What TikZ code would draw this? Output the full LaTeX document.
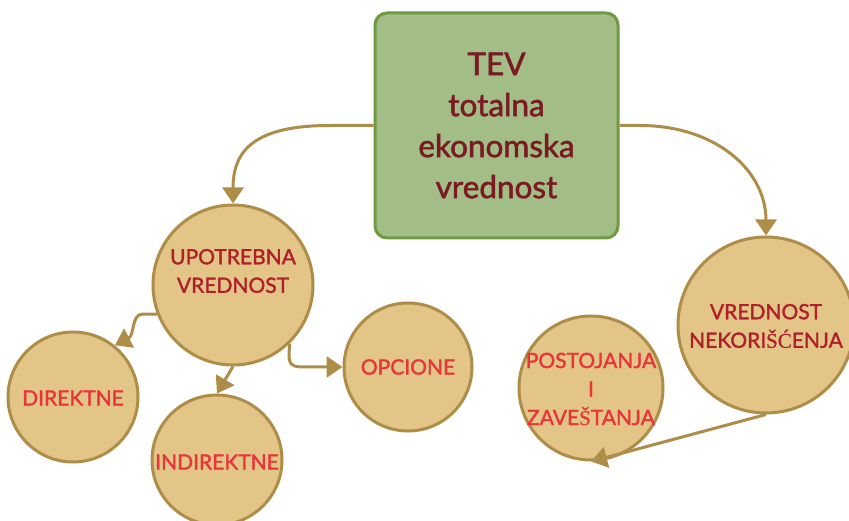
\documentclass[tikz,border=0pt]{standalone}
\usepackage{fontspec}
\setmainfont[FakeBold=1.6]{Lato}
\newfontfamily\serifch[FakeBold=0.8]{Liberation Serif}
\usetikzlibrary{arrows.meta}
\definecolor{boxfill}{HTML}{A2BE86}
\definecolor{boxline}{HTML}{6F9A42}
\definecolor{circfill}{HTML}{E3C587}
\definecolor{circline}{HTML}{AE8D48}
\definecolor{tevred}{HTML}{7A1A22}
\definecolor{darkred}{HTML}{B0202B}
\definecolor{brightred}{HTML}{E8343B}
\tikzset{
  tevbox/.style={draw=boxline, fill=boxfill, line width=3pt, rounded corners=12pt,
    minimum width=243pt, minimum height=225pt, align=center, text=tevred,
    font=\fontsize{31.5}{41}\selectfont},
  circ/.style={draw=circline, fill=circfill, line width=3pt, circle, inner sep=0pt},
  ctxt/.style={align=center, font=\fontsize{21}{28.5}\selectfont, inner sep=0pt},
  conn/.style={draw=circline, line width=3pt, -{Triangle[length=16pt,width=21pt]}}
}
\begin{document}
\begin{tikzpicture}[x=1pt,y=-1pt]
\useasboundingbox (0,0) rectangle (849,521);
\node[tevbox] (tev) at (496.5,125.5) {TEV\\totalna\\ekonomska\\vrednost};
\node[circ, minimum size=160pt] (uv) at (233,285) {};
\node[ctxt, text=darkred] (uvt) at (233,271) {UPOTREBNA\\VREDNOST};
\node[circ, minimum size=130pt] (dir) at (73,397) {};
\node[ctxt, text=brightred] (dirt) at (73,398) {DIREKTNE};
\node[circ, minimum size=130pt] (ind) at (217,460) {};
\node[ctxt, text=brightred] (indt) at (217,462) {INDIREKTNE};
\node[circ, minimum size=128pt] (opc) at (408,367) {};
\node[ctxt, text=brightred] (opct) at (408,367) {OPCIONE};
\node[circ, minimum size=176pt] (vn) at (766,325) {};
\node[ctxt, text=darkred] (vnt) at (766,326) {VREDNOST\\NEKORI{\serifch ŠĆ}ENJA};
\node[circ, minimum size=144pt] (post) at (591,388) {};
\node[ctxt, text=brightred] (postt) at (591,389) {POSTOJANJA\\I\\ZAVE{\serifch Š}TANJA};
% connectors
\draw[conn] (tev.west) -- (330,125.5) .. controls (255,125.5) and (233,150) .. (uv.north);
\draw[conn] (tev.east) -- (640,125.5) .. controls (715,125.5) and (766,170) .. (vn.north);
\draw[conn] (uv.201) -- (143,314) .. controls (131,314) and (135,335) .. (dir.51);
\draw[conn] (uv.south) -- (ind.north);
\draw[conn] (uv.-46) -- (289,355) .. controls (289,366) and (294,367) .. (305,367) -- (opc.west);
\draw[conn] (vn.south) -- (post.south);
\end{tikzpicture}
\end{document}
